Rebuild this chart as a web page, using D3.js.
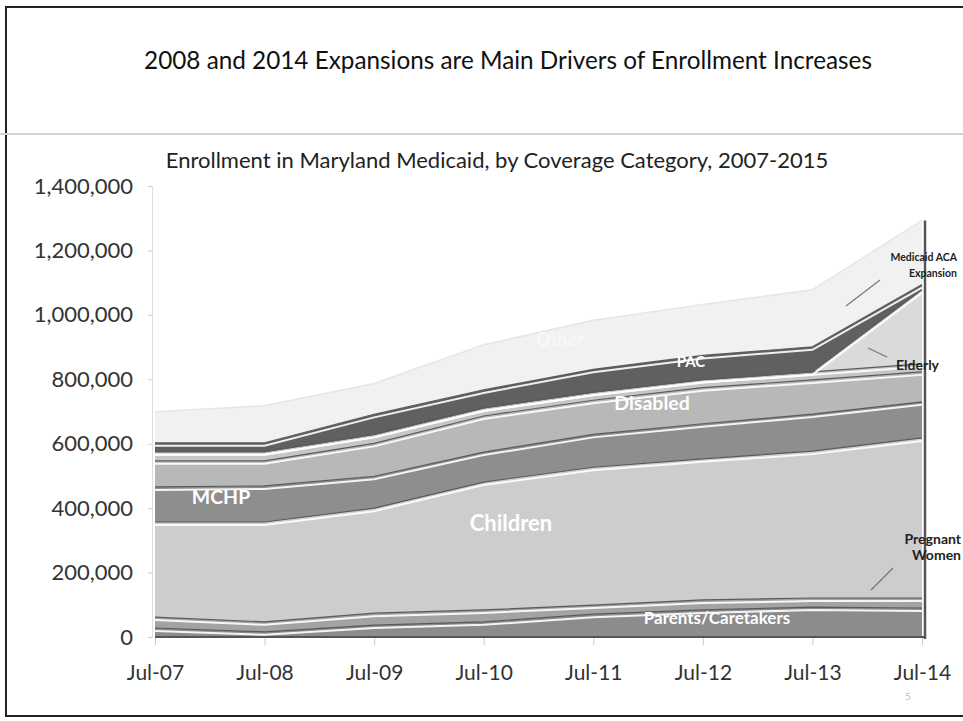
<!DOCTYPE html>
<html>
<head>
<meta charset="utf-8">
<script src="https://cdn.jsdelivr.net/npm/d3@7"></script>
<style>
  body { margin: 0; background: #fff; }
  svg { display: block; font-family: Lato, "Open Sans", sans-serif; }
</style>
</head>
<body>
<svg id="chart" width="963" height="721"></svg>
<script>
const dates = ["Jul-07", "Jul-08", "Jul-09", "Jul-10", "Jul-11", "Jul-12", "Jul-13", "Jul-14"];
const yTicks = [0, 200000, 400000, 600000, 800000, 1000000, 1200000, 1400000];

// enrollment by coverage category, bottom of stack first
const parents = [28000, 16000, 37000, 47000, 71000, 84000, 93000, 90000];
const pregnant = [34000, 31000, 37000, 37000, 28000, 31000, 28000, 31000];
const children = [295000, 310000, 326000, 397000, 428000, 438000, 456000, 497000];
const mchp = [109000, 112000, 99000, 93000, 102000, 109000, 115000, 112000];
const disabled = [81000, 78000, 102000, 112000, 106000, 112000, 106000, 93000];
const elderly = [28000, 28000, 28000, 25000, 25000, 25000, 25000, 25000];
const acaExpansion = [0, 0, 0, 0, 0, 0, 0, 230000];
const pac = [28000, 28000, 62000, 56000, 71000, 75000, 78000, 16000];
const other = [96000, 115000, 96000, 140000, 152000, 158000, 177000, 199000];

const keys = ["Parents/Caretakers", "Pregnant Women", "Children", "MCHP", "Disabled",
  "Elderly", "Medicaid ACA Expansion", "PAC", "Other"];
const series = [parents, pregnant, children, mchp, disabled, elderly, acaExpansion, pac, other];
const fills = ["#8c8c8c", "#a3a3a3", "#cdcdcd", "#8e8e8e", "#b8b8b8", "#c6c6c6", "#dadada", "#606060", "#f1f1f1"];

const table = dates.map((date, i) => {
  const row = { date };
  keys.forEach((k, j) => (row[k] = series[j][i]));
  return row;
});

const svg = d3.select("#chart");

// slide frame
svg.append("rect")
  .attr("x", 6).attr("y", 7).attr("width", 980).attr("height", 709)
  .attr("fill", "none").attr("stroke", "#222").attr("stroke-width", 2);
svg.append("line")
  .attr("x1", 0).attr("x2", 963).attr("y1", 134).attr("y2", 134)
  .attr("stroke", "#d4d4d4").attr("stroke-width", 2);

svg.append("text")
  .attr("x", 508).attr("y", 69)
  .attr("text-anchor", "middle")
  .attr("font-size", 24.3)
  .attr("fill", "#111")
  .text("2008 and 2014 Expansions are Main Drivers of Enrollment Increases");

svg.append("text")
  .attr("x", 497).attr("y", 168)
  .attr("text-anchor", "middle")
  .attr("font-size", 22)
  .attr("fill", "#222")
  .text("Enrollment in Maryland Medicaid, by Coverage Category, 2007-2015");

const x = d3.scalePoint().domain(dates).range([155, 922]);
const y = d3.scaleLinear().domain([0, 1400000]).range([637, 186]);

// axes
const yAxis = svg.append("g")
  .attr("transform", "translate(152,0)")
  .call(d3.axisLeft(y).tickValues(yTicks).tickFormat(d3.format(",")).tickSize(4).tickPadding(15));
yAxis.select(".domain").attr("stroke", "#ddd");
yAxis.selectAll(".tick line").attr("stroke", "#ccc");
yAxis.selectAll("text").attr("font-size", 22).attr("fill", "#333").attr("font-family", "Lato, sans-serif");

const xAxis = svg.append("g")
  .attr("transform", "translate(0,637)")
  .call(d3.axisBottom(x).tickSize(8).tickPadding(20));
xAxis.select(".domain").remove();
xAxis.selectAll(".tick line").attr("stroke", "#ccc");
xAxis.selectAll("text").attr("font-size", 21).attr("fill", "#333").attr("font-family", "Lato, sans-serif");

// stacked areas
const stacked = d3.stack().keys(keys)(table);

const area = d3.area()
  .x((d) => x(d.data.date))
  .y0((d) => y(d[0]))
  .y1((d) => y(d[1]));
const topLine = d3.line()
  .x((d) => x(d.data.date))
  .y((d) => y(d[1]));

const layers = svg.append("g");
layers.selectAll("path.area")
  .data(stacked)
  .enter()
  .append("path")
  .attr("class", "area")
  .attr("d", area)
  .attr("fill", (_, i) => fills[i]);

// bevel-like edges: dark rim with a white highlight just below it
layers.selectAll("path.rim")
  .data(stacked.slice(0, -1))
  .enter()
  .append("path")
  .attr("class", "rim")
  .attr("d", topLine)
  .attr("fill", "none")
  .attr("stroke", "#5a5a5a")
  .attr("stroke-width", 1.2);
layers.selectAll("path.shine")
  .data(stacked.slice(0, -1))
  .enter()
  .append("path")
  .attr("class", "shine")
  .attr("d", topLine)
  .attr("transform", "translate(0,3)")
  .attr("fill", "none")
  .attr("stroke", "#fff")
  .attr("stroke-width", 2)
  .attr("stroke-opacity", 0.9);
layers.append("path")
  .attr("d", topLine(stacked[stacked.length - 1]))
  .attr("fill", "none")
  .attr("stroke", "#e6e6e6")
  .attr("stroke-width", 1.5);

// base and right side
const last = dates[dates.length - 1];
svg.append("line")
  .attr("x1", x(dates[0])).attr("x2", x(last) + 3)
  .attr("y1", y(0)).attr("y2", y(0))
  .attr("stroke", "#555").attr("stroke-width", 2);
svg.append("line")
  .attr("x1", x(last) + 3).attr("x2", x(last) + 3)
  .attr("y1", y(stacked[stacked.length - 1][dates.length - 1][1])).attr("y2", y(0) + 2)
  .attr("stroke", "#555").attr("stroke-width", 2.5);

// in-chart labels
const inLabels = [
  { text: "MCHP", x: 221, y: 504, size: 19.5 },
  { text: "Children", x: 511, y: 531, size: 22 },
  { text: "Disabled", x: 652, y: 410, size: 19.5 },
  { text: "PAC", x: 691, y: 367, size: 15 },
  { text: "Parents/Caretakers", x: 717, y: 624, size: 17 },
  { text: "Other", x: 560, y: 346, size: 18 },
];
svg.selectAll("text.in")
  .data(inLabels)
  .enter()
  .append("text")
  .attr("class", "in")
  .attr("x", (d) => d.x).attr("y", (d) => d.y)
  .attr("text-anchor", "middle")
  .attr("font-size", (d) => d.size)
  .attr("font-weight", "bold")
  .attr("fill", (d) => (d.text === "Other" ? "#f8f8f8" : "#fff"))
  .text((d) => d.text);

// callouts on the right
const callouts = [
  { lines: ["Medicaid ACA", "Expansion"], x: 957, y: 261, size: 10.5, from: [880, 280], to: [846, 306] },
  { lines: ["Elderly"], x: 939, y: 370, size: 14, from: [887, 357], to: [868, 348] },
  { lines: ["Pregnant", "Women"], x: 961, y: 544, size: 14, from: [893, 568], to: [871, 590] },
];
callouts.forEach((c) => {
  svg.append("line")
    .attr("x1", c.from[0]).attr("y1", c.from[1])
    .attr("x2", c.to[0]).attr("y2", c.to[1])
    .attr("stroke", "#777").attr("stroke-width", 1.2);
  svg.append("text")
    .attr("text-anchor", "end")
    .attr("font-size", c.size)
    .attr("font-weight", "bold")
    .attr("fill", "#222")
    .selectAll("tspan")
    .data(c.lines)
    .enter()
    .append("tspan")
    .attr("x", c.x)
    .attr("y", (_, i) => c.y + i * 16)
    .text((d) => d);
});

svg.append("text")
  .attr("x", 905).attr("y", 700)
  .attr("font-size", 10)
  .attr("fill", "#bbb")
  .text("5");
</script>
</body>
</html>
